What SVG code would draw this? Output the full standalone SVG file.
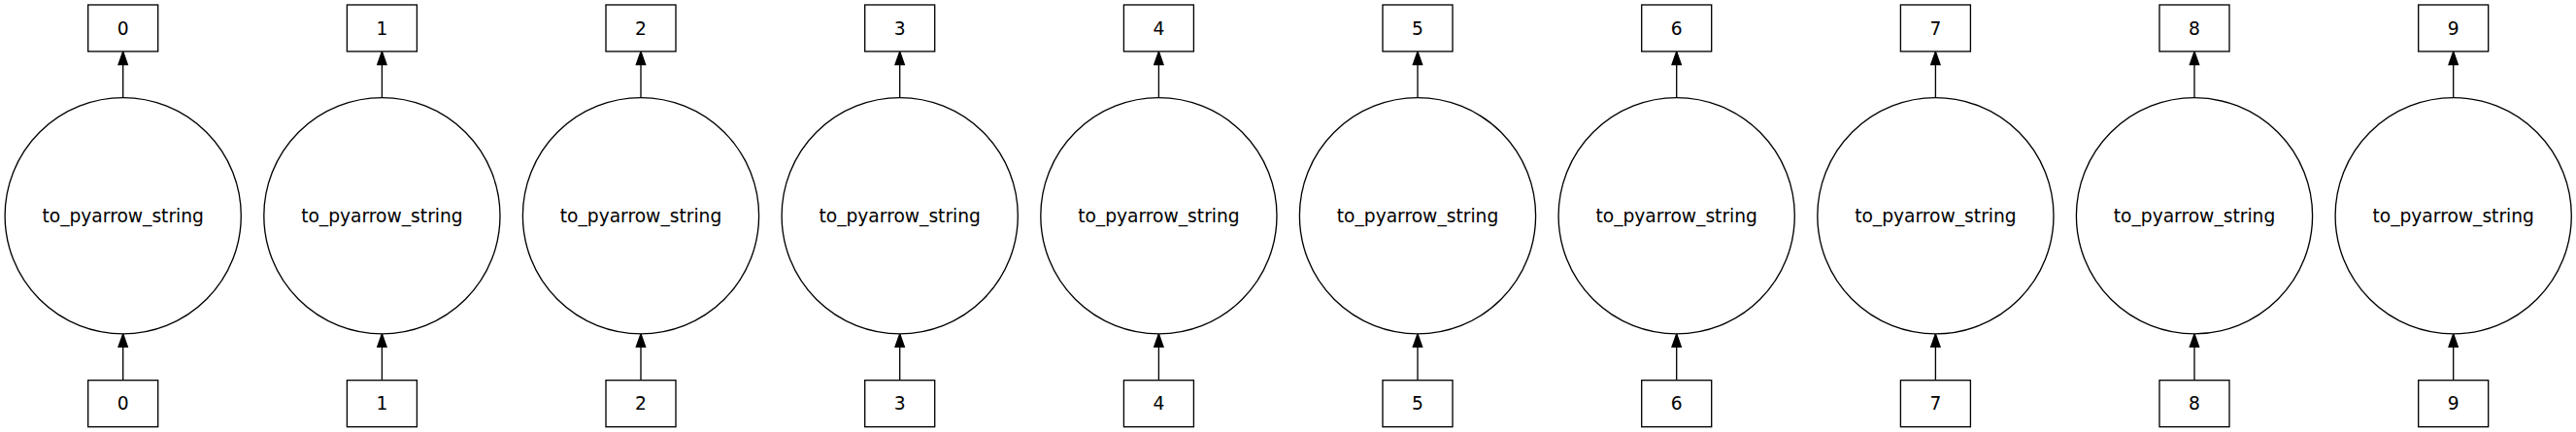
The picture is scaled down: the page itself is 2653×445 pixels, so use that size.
<svg xmlns="http://www.w3.org/2000/svg" width="2653" height="445" viewBox="0 0 2653 445">
<style>
.bx{fill:#fff;stroke:#000;stroke-width:1.33}
.ci{fill:#fff;stroke:#000;stroke-width:1.33}
.ed{stroke:#000;stroke-width:1.33;fill:none;marker-end:url(#ah)}
text{font-family:"DejaVu Sans",sans-serif;font-size:18.67px;text-anchor:middle;fill:#000}
</style>
<defs>
<marker id="ah" markerUnits="userSpaceOnUse" markerWidth="16" markerHeight="12" viewBox="-1 -1 16 12" refX="13.33" refY="4.67" orient="auto">
<path d="M0,0 L13.33,4.67 L0,9.33 Z" fill="#000" stroke="#000" stroke-width="1.33"/>
</marker>
</defs>
<rect width="2653" height="445" fill="#fff"/>
<g id="connectors">
<path class="ed" d="M126.7,391.7 V344"/><path class="ed" d="M126.7,100.7 V53.2"/>
<path class="ed" d="M393.4,391.7 V344"/><path class="ed" d="M393.4,100.7 V53.2"/>
<path class="ed" d="M660,391.7 V344"/><path class="ed" d="M660,100.7 V53.2"/>
<path class="ed" d="M926.7,391.7 V344"/><path class="ed" d="M926.7,100.7 V53.2"/>
<path class="ed" d="M1193.4,391.7 V344"/><path class="ed" d="M1193.4,100.7 V53.2"/>
<path class="ed" d="M1460,391.7 V344"/><path class="ed" d="M1460,100.7 V53.2"/>
<path class="ed" d="M1726.7,391.7 V344"/><path class="ed" d="M1726.7,100.7 V53.2"/>
<path class="ed" d="M1993.4,391.7 V344"/><path class="ed" d="M1993.4,100.7 V53.2"/>
<path class="ed" d="M2260,391.7 V344"/><path class="ed" d="M2260,100.7 V53.2"/>
<path class="ed" d="M2526.7,391.7 V344"/><path class="ed" d="M2526.7,100.7 V53.2"/>
</g>
<g id="col0"><g id="out0"><rect class="bx" x="90.7" y="5" width="72" height="48"/><text x="126.7" y="35.7">0</text></g><g id="fn0"><circle class="ci" cx="126.7" cy="222.3" r="121.6"/><text x="126.7" y="229">to_pyarrow_string</text></g><g id="in0"><rect class="bx" x="90.7" y="391.7" width="72" height="48"/><text x="126.7" y="422.4">0</text></g></g>
<g id="col1"><g id="out1"><rect class="bx" x="357.4" y="5" width="72" height="48"/><text x="393.4" y="35.7">1</text></g><g id="fn1"><circle class="ci" cx="393.4" cy="222.3" r="121.6"/><text x="393.4" y="229">to_pyarrow_string</text></g><g id="in1"><rect class="bx" x="357.4" y="391.7" width="72" height="48"/><text x="393.4" y="422.4">1</text></g></g>
<g id="col2"><g id="out2"><rect class="bx" x="624" y="5" width="72" height="48"/><text x="660" y="35.7">2</text></g><g id="fn2"><circle class="ci" cx="660" cy="222.3" r="121.6"/><text x="660" y="229">to_pyarrow_string</text></g><g id="in2"><rect class="bx" x="624" y="391.7" width="72" height="48"/><text x="660" y="422.4">2</text></g></g>
<g id="col3"><g id="out3"><rect class="bx" x="890.7" y="5" width="72" height="48"/><text x="926.7" y="35.7">3</text></g><g id="fn3"><circle class="ci" cx="926.7" cy="222.3" r="121.6"/><text x="926.7" y="229">to_pyarrow_string</text></g><g id="in3"><rect class="bx" x="890.7" y="391.7" width="72" height="48"/><text x="926.7" y="422.4">3</text></g></g>
<g id="col4"><g id="out4"><rect class="bx" x="1157.4" y="5" width="72" height="48"/><text x="1193.4" y="35.7">4</text></g><g id="fn4"><circle class="ci" cx="1193.4" cy="222.3" r="121.6"/><text x="1193.4" y="229">to_pyarrow_string</text></g><g id="in4"><rect class="bx" x="1157.4" y="391.7" width="72" height="48"/><text x="1193.4" y="422.4">4</text></g></g>
<g id="col5"><g id="out5"><rect class="bx" x="1424" y="5" width="72" height="48"/><text x="1460" y="35.7">5</text></g><g id="fn5"><circle class="ci" cx="1460" cy="222.3" r="121.6"/><text x="1460" y="229">to_pyarrow_string</text></g><g id="in5"><rect class="bx" x="1424" y="391.7" width="72" height="48"/><text x="1460" y="422.4">5</text></g></g>
<g id="col6"><g id="out6"><rect class="bx" x="1690.7" y="5" width="72" height="48"/><text x="1726.7" y="35.7">6</text></g><g id="fn6"><circle class="ci" cx="1726.7" cy="222.3" r="121.6"/><text x="1726.7" y="229">to_pyarrow_string</text></g><g id="in6"><rect class="bx" x="1690.7" y="391.7" width="72" height="48"/><text x="1726.7" y="422.4">6</text></g></g>
<g id="col7"><g id="out7"><rect class="bx" x="1957.4" y="5" width="72" height="48"/><text x="1993.4" y="35.7">7</text></g><g id="fn7"><circle class="ci" cx="1993.4" cy="222.3" r="121.6"/><text x="1993.4" y="229">to_pyarrow_string</text></g><g id="in7"><rect class="bx" x="1957.4" y="391.7" width="72" height="48"/><text x="1993.4" y="422.4">7</text></g></g>
<g id="col8"><g id="out8"><rect class="bx" x="2224" y="5" width="72" height="48"/><text x="2260" y="35.7">8</text></g><g id="fn8"><circle class="ci" cx="2260" cy="222.3" r="121.6"/><text x="2260" y="229">to_pyarrow_string</text></g><g id="in8"><rect class="bx" x="2224" y="391.7" width="72" height="48"/><text x="2260" y="422.4">8</text></g></g>
<g id="col9"><g id="out9"><rect class="bx" x="2490.7" y="5" width="72" height="48"/><text x="2526.7" y="35.7">9</text></g><g id="fn9"><circle class="ci" cx="2526.7" cy="222.3" r="121.6"/><text x="2526.7" y="229">to_pyarrow_string</text></g><g id="in9"><rect class="bx" x="2490.7" y="391.7" width="72" height="48"/><text x="2526.7" y="422.4">9</text></g></g>
</svg>
